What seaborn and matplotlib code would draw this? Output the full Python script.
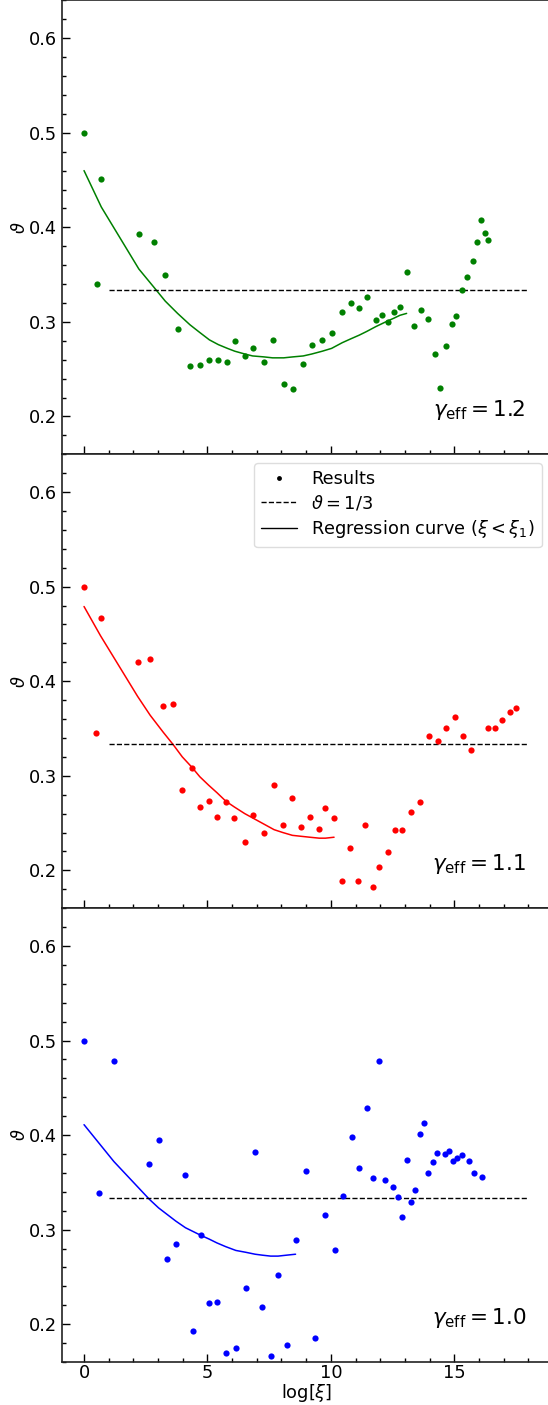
# Three stacked panels: theta vs log[xi] for gamma_eff = 1.2, 1.1, 1.0
import numpy as np
import seaborn as sns
import matplotlib
matplotlib.use("Agg")
import matplotlib.pyplot as plt
from matplotlib.lines import Line2D
from matplotlib.ticker import AutoMinorLocator

# gamma_eff = 1.2 results
x_12 = [0, 0.51, 0.70, 2.22, 2.82, 3.29, 3.79, 4.29, 4.68, 5.08, 5.44, 5.81, 6.11, 6.52,
        6.83, 7.29, 7.64, 8.09, 8.46, 8.88, 9.22, 9.65, 10.03, 10.46, 10.80, 11.15, 11.46,
        11.82, 12.06, 12.30, 12.56, 12.80, 13.07, 13.38, 13.64, 13.94, 14.20, 14.42, 14.66,
        14.91, 15.08, 15.30, 15.53, 15.74, 15.93, 16.08, 16.24, 16.37]
y_12 = [0.500, 0.340, 0.451, 0.393, 0.384, 0.350, 0.292, 0.253, 0.254, 0.260, 0.260, 0.258,
        0.280, 0.264, 0.272, 0.258, 0.281, 0.234, 0.229, 0.255, 0.276, 0.281, 0.288, 0.310,
        0.320, 0.315, 0.326, 0.302, 0.307, 0.300, 0.311, 0.316, 0.353, 0.296, 0.313, 0.303,
        0.266, 0.230, 0.274, 0.298, 0.306, 0.334, 0.348, 0.364, 0.384, 0.408, 0.394, 0.387]
cx_12 = [0, 0.70, 2.22, 2.82, 3.29, 3.79, 4.29, 4.68, 5.08, 5.44, 5.81, 6.11, 6.52, 6.83,
         7.29, 7.64, 8.09, 8.46, 8.88, 9.22, 9.65, 10.03, 10.46, 10.80, 11.15, 11.46, 11.82,
         12.06, 12.30, 12.56, 12.80, 13.07]
cy_12 = [0.460, 0.4215, 0.356, 0.337, 0.322, 0.309, 0.297, 0.289, 0.281, 0.276, 0.272,
         0.269, 0.266, 0.264, 0.263, 0.262, 0.262, 0.263, 0.264, 0.266, 0.269, 0.272, 0.278,
         0.282, 0.286, 0.290, 0.295, 0.298, 0.301, 0.304, 0.307, 0.309]

# gamma_eff = 1.1 results
x_11 = [0, 0.49, 0.67, 2.17, 2.68, 3.21, 3.61, 3.98, 4.37, 4.69, 5.05, 5.39, 5.75, 6.09,
        6.51, 6.86, 7.28, 7.70, 8.05, 8.44, 8.79, 9.15, 9.53, 9.78, 10.13, 10.46, 10.78,
        11.12, 11.37, 11.70, 11.97, 12.30, 12.60, 12.90, 13.25, 13.61, 13.98, 14.35, 14.68,
        15.04, 15.35, 15.67, 16.36, 16.64, 16.93, 17.24, 17.52]
y_11 = [0.500, 0.345, 0.467, 0.420, 0.424, 0.374, 0.376, 0.285, 0.308, 0.267, 0.273, 0.256,
        0.272, 0.255, 0.230, 0.258, 0.239, 0.290, 0.248, 0.277, 0.246, 0.256, 0.244, 0.266,
        0.255, 0.189, 0.224, 0.189, 0.248, 0.182, 0.203, 0.219, 0.243, 0.243, 0.262, 0.272,
        0.342, 0.337, 0.351, 0.362, 0.342, 0.327, 0.351, 0.350, 0.359, 0.367, 0.372]
cx_11 = [0, 0.67, 2.17, 2.68, 3.21, 3.61, 3.98, 4.37, 4.69, 5.05, 5.39, 5.75, 6.09, 6.51,
         6.86, 7.28, 7.70, 8.05, 8.44, 8.79, 9.15, 9.53, 9.78, 10.13]
cy_11 = [0.479, 0.448, 0.384, 0.364, 0.346, 0.333, 0.320, 0.309, 0.299, 0.290, 0.282,
         0.273, 0.267, 0.260, 0.255, 0.249, 0.243, 0.240, 0.237, 0.236, 0.235, 0.234,
         0.234, 0.235]

# gamma_eff = 1.0 results
x_10 = [0, 0.61, 1.21, 2.65, 3.02, 3.37, 3.72, 4.11, 4.42, 4.73, 5.07, 5.38, 5.74, 6.15,
        6.56, 6.93, 7.22, 7.56, 7.86, 8.21, 8.57, 8.98, 9.37, 9.77, 10.15, 10.51, 10.86,
        11.13, 11.46, 11.71, 11.95, 12.21, 12.52, 12.71, 12.90, 13.09, 13.25, 13.42, 13.60,
        13.79, 13.95, 14.12, 14.31, 14.61, 14.77, 14.95, 15.12, 15.30, 15.61, 15.81, 16.11]
y_10 = [0.500, 0.339, 0.478, 0.369, 0.395, 0.269, 0.285, 0.358, 0.193, 0.294, 0.222, 0.223,
        0.170, 0.175, 0.238, 0.382, 0.218, 0.166, 0.252, 0.178, 0.289, 0.362, 0.185, 0.315,
        0.278, 0.336, 0.398, 0.365, 0.429, 0.355, 0.478, 0.352, 0.345, 0.335, 0.313, 0.374,
        0.329, 0.342, 0.401, 0.413, 0.360, 0.371, 0.381, 0.380, 0.383, 0.373, 0.376, 0.379,
        0.373, 0.360, 0.356]
cx_10 = [0, 1.21, 2.65, 3.02, 3.37, 3.72, 4.11, 4.42, 4.73, 5.07, 5.38, 5.74, 6.15, 6.56,
         6.93, 7.22, 7.56, 7.86, 8.21, 8.57]
cy_10 = [0.411, 0.372, 0.332, 0.323, 0.316, 0.309, 0.302, 0.298, 0.294, 0.290, 0.286,
         0.282, 0.278, 0.276, 0.274, 0.273, 0.272, 0.272, 0.273, 0.274]

# reference line theta = 1/3
ref_x = [1, 18]
ref_y = [1 / 3, 1 / 3]

panels = [
    (x_12, y_12, cx_12, cy_12, "green", "1.2"),
    (x_11, y_11, cx_11, cy_11, "red", "1.1"),
    (x_10, y_10, cx_10, cy_10, "blue", "1.0"),
]

sns.set_theme(style="ticks")
plt.rcParams["font.family"] = ["DejaVu Sans"]
plt.rcParams["mathtext.fontset"] = "dejavusans"
for k in ["text.color", "axes.labelcolor", "xtick.color", "ytick.color"]:
    plt.rcParams[k] = "black"
fs = 12.8

fig, axes = plt.subplots(3, 1, figsize=(5.48, 14.05), dpi=100, sharex=True)
fig.subplots_adjust(left=0.1128, right=1.0046, bottom=0.0306, top=0.9997, hspace=0)

for ax, (x, y, cx, cy, col, g) in zip(axes, panels):
    sns.scatterplot(x=x, y=y, color=col, s=20, linewidth=0, ax=ax, zorder=3)
    sns.lineplot(x=cx, y=cy, color=col, lw=1.1, ax=ax, sort=False, estimator=None)
    sns.lineplot(x=ref_x, y=ref_y, color="black", lw=1.0, ls="--", ax=ax)
    ax.set_ylim(0.16, 0.64)
    ax.set_xlim(-0.9, 18.9)
    ax.set_yticks([0.2, 0.3, 0.4, 0.5, 0.6])
    ax.set_xticks([0, 5, 10, 15])
    ax.xaxis.set_minor_locator(AutoMinorLocator(5))
    ax.yaxis.set_minor_locator(AutoMinorLocator(5))
    ax.tick_params(which="both", direction="in", labelsize=fs)
    ax.tick_params(axis="y", which="both", pad=3.5)
    ax.tick_params(axis="x", which="both", pad=1.5)
    ax.tick_params(which="major", length=6, width=1)
    ax.tick_params(which="minor", length=3, width=1)
    for sp in ax.spines.values():
        sp.set_color("#222222")
        sp.set_linewidth(1.2)
    ax.set_ylabel(r"$\vartheta$", fontsize=fs, labelpad=0)
    ax.text(17.9, 0.2, r"$\gamma_{\rm eff} = " + g + "$", fontsize=15.5,
            ha="right", va="baseline")

axes[2].set_xlabel(r"log[$\xi$]", fontsize=fs, labelpad=0)

handles = [
    Line2D([], [], marker="o", color="black", ls="", markersize=3.5, markeredgewidth=0),
    Line2D([], [], color="black", ls="--", lw=1.0),
    Line2D([], [], color="black", lw=1.0),
]
labels = ["Results", r"$\vartheta = 1/3$", r"Regression curve ($\xi < \xi_1$)"]
axes[1].legend(handles, labels, loc="upper right", fontsize=fs, fancybox=True,
               framealpha=1, edgecolor="#dddddd", labelspacing=0.3)

fig.savefig("out.png", dpi=100)
